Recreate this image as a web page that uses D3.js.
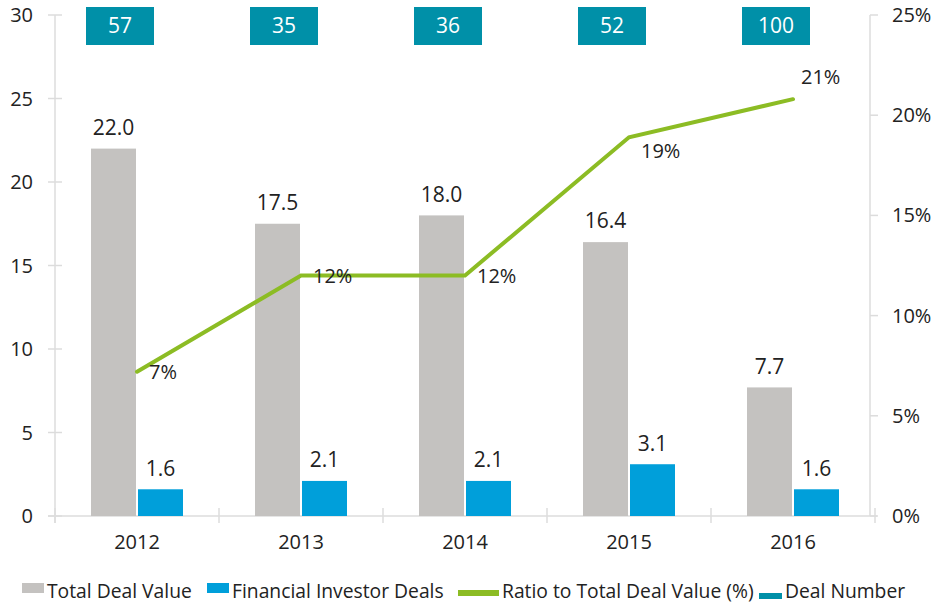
<!DOCTYPE html>
<html>
<head>
<meta charset="utf-8">
<script src="https://cdn.jsdelivr.net/npm/d3@7"></script>
<style>
  body { margin: 0; background: #fff; }
  svg text { font-family: "Open Sans", "Noto Sans", sans-serif; fill: #222; }
</style>
</head>
<body>
<svg id="chart"></svg>
<script>
// data
var years = ["2012", "2013", "2014", "2015", "2016"]
var totalDeal = [22.0, 17.5, 18.0, 16.4, 7.7]
var investorDeals = [1.6, 2.1, 2.1, 3.1, 1.6]
var ratio = [7.2, 12.0, 12.0, 18.9, 20.8]
var dealNumber = [57, 35, 36, 52, 100]
var leftTicks = [0, 5, 10, 15, 20, 25, 30]
var rightTicks = [0, 5, 10, 15, 20, 25]
var ratioLabelPlace = ["right", "right", "right", "below", "above"]

var W = 936, H = 607
var colors = {"total": "#c4c2c0", "investor": "#009fda", "ratio": "#8cbc24", "deals": "#0090a8", "axis": "#dcdcdc"}

var svg = d3.select("#chart").attr("width", W).attr("height", H)

var x = d3.scaleBand().domain(years).range([55, 875])
var y = d3.scaleLinear().domain([0, 30]).range([516, 15])
var y2 = d3.scaleLinear().domain([0, 25]).range([516, 15])

var series = ["total", "investor"]
function cx(d){ return x(d) + x.bandwidth() / 2 }
var x1 = d3.scaleBand().domain(series).range([-46, 46]).paddingInner(0.0426)

// axes
var axisG = svg.append("g")
// left axis
axisG.append("line").attr("x1", 55).attr("x2", 55).attr("y1", y(30)).attr("y2", 523)
  .attr("stroke", colors.axis).attr("stroke-width", 1.5)
leftTicks.forEach(function(t){
  axisG.append("line").attr("x1", 48).attr("x2", 62).attr("y1", y(t)).attr("y2", y(t))
    .attr("stroke", colors.axis).attr("stroke-width", 1.5)
  axisG.append("text").attr("x", 33).attr("y", y(t)).attr("dy", "0.35em")
    .attr("text-anchor", "end").attr("font-size", "20px").text(t)
})
// right axis
axisG.append("line").attr("x1", 870).attr("x2", 870).attr("y1", y2(25)).attr("y2", 516)
  .attr("stroke", colors.axis).attr("stroke-width", 1.5)
rightTicks.forEach(function(t){
  axisG.append("line").attr("x1", 870).attr("x2", 878).attr("y1", y2(t)).attr("y2", y2(t))
    .attr("stroke", colors.axis).attr("stroke-width", 1.5)
  axisG.append("text").attr("x", 892).attr("y", y2(t)).attr("dy", "0.35em")
    .attr("font-size", "20px").text(t + "%")
})
// bottom axis
axisG.append("line").attr("x1", 48).attr("x2", 877).attr("y1", 516).attr("y2", 516)
  .attr("stroke", colors.axis).attr("stroke-width", 1.5)
x.domain().forEach(function(d, i){
  var xe = x(d)
  axisG.append("line").attr("x1", xe).attr("x2", xe).attr("y1", 508).attr("y2", 523)
    .attr("stroke", colors.axis).attr("stroke-width", 1.5)
  axisG.append("text").attr("x", cx(d)).attr("y", 542).attr("dy", "0.35em")
    .attr("text-anchor", "middle").attr("font-size", "20px").text(d)
})
axisG.append("line").attr("x1", 875).attr("x2", 875).attr("y1", 508).attr("y2", 523)
  .attr("stroke", colors.axis).attr("stroke-width", 1.5)

// bars
var barData = []
years.forEach(function(yr, i){
  barData.push({"year": yr, "key": "total", "value": totalDeal[i]})
  barData.push({"year": yr, "key": "investor", "value": investorDeals[i]})
})

svg.append("g").selectAll("rect")
  .data(barData)
  .enter()
  .append("rect")
  .attr("x", function(d){ return cx(d.year) + x1(d.key) })
  .attr("width", x1.bandwidth())
  .attr("y", function(d){ return y(d.value) })
  .attr("height", function(d){ return y(0) - y(d.value) })
  .attr("fill", function(d){ return colors[d.key] })

svg.append("g").selectAll("text")
  .data(barData)
  .enter()
  .append("text")
  .attr("x", function(d){ return cx(d.year) + x1(d.key) + x1.bandwidth() / 2 })
  .attr("y", function(d){ return y(d.value) - 21 })
  .attr("dy", "0.35em")
  .attr("text-anchor", "middle")
  .attr("font-size", "21px")
  .text(function(d){ return d.value.toFixed(1) })

// ratio line
var line = d3.line()
  .x(function(d, i){ return cx(years[i]) })
  .y(function(d){ return y2(d) })

svg.append("path")
  .datum(ratio)
  .attr("d", line)
  .attr("fill", "none")
  .attr("stroke", colors.ratio)
  .attr("stroke-width", 4)
  .attr("stroke-linecap", "round")

svg.append("g").selectAll("text")
  .data(ratio)
  .enter()
  .append("text")
  .attr("x", function(d, i){
    var p = ratioLabelPlace[i]
    return cx(years[i]) + (p == "above" ? 8 : 12) })
  .attr("y", function(d, i){
    var p = ratioLabelPlace[i]
    var off = p == "below" ? 14 : (p == "above" ? -22 : 0)
    return y2(d) + off })
  .attr("dy", "0.35em")
  .attr("font-size", "20px")
  .text(function(d){ return Math.round(d) + "%" })

// deal number boxes
var boxes = svg.append("g").selectAll("g")
  .data(dealNumber)
  .enter()
  .append("g")
  .attr("transform", function(d, i){ return "translate(" + (cx(years[i]) - 17) + ",26)" })

boxes.append("rect")
  .attr("x", -34).attr("y", -19)
  .attr("width", 68).attr("height", 38)
  .attr("fill", colors.deals)
boxes.append("text")
  .attr("text-anchor", "middle")
  .attr("dy", "0.35em")
  .attr("font-size", "21px")
  .style("fill", "#fff")
  .text(function(d){ return d })

// legend
var legend = [
  {"label": "Total Deal Value", "color": colors.total, "x": 22, "w": 22, "y": 583, "h": 10},
  {"label": "Financial Investor Deals", "color": colors.investor, "x": 207, "w": 22, "y": 583, "h": 10},
  {"label": "Ratio to Total Deal Value (%)", "color": colors.ratio, "x": 458, "w": 41, "y": 590, "h": 6},
  {"label": "Deal Number", "color": colors.deals, "x": 759, "w": 23, "y": 593, "h": 6}
]
var lg = svg.append("g").selectAll("g").data(legend).enter().append("g")
lg.append("rect")
  .attr("x", function(d){ return d.x }).attr("y", function(d){ return d.y })
  .attr("width", function(d){ return d.w }).attr("height", function(d){ return d.h })
  .attr("fill", function(d){ return d.color })
lg.append("text")
  .attr("x", function(d){ return d.x + d.w + 3 })
  .attr("y", 591)
  .attr("dy", "0.35em")
  .attr("font-size", "19.3px")
  .text(function(d){ return d.label })
</script>
</body>
</html>
